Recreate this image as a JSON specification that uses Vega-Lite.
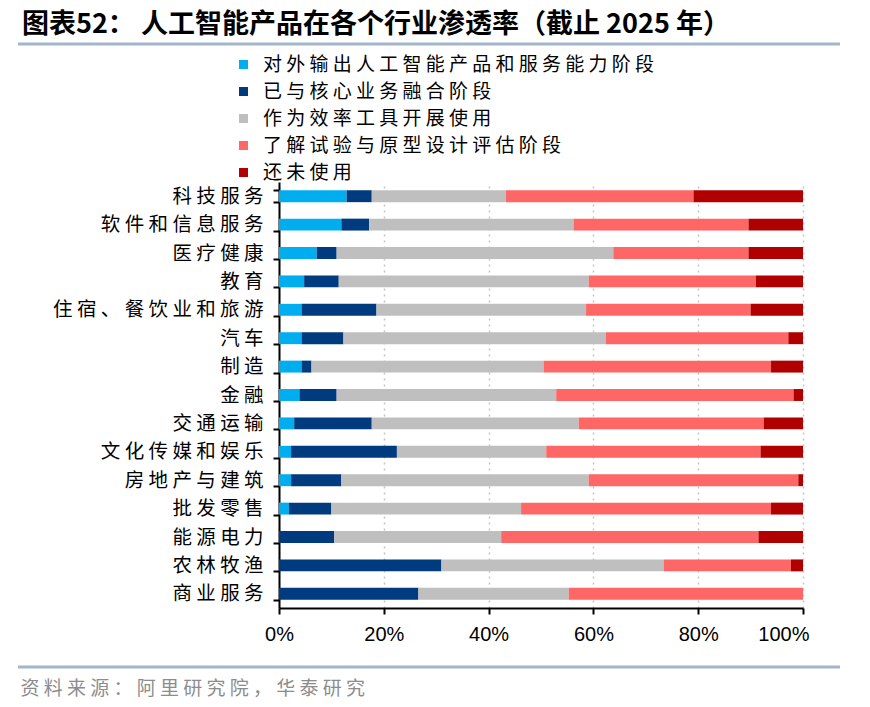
{
  "$schema": "https://vega.github.io/schema/vega-lite/v6.json",
  "width": 524,
  "height": 426,
  "autosize": {"type": "none"},
  "padding": {"left": 279, "top": 182, "right": 67, "bottom": 99},
  "background": "white",
  "title": {
    "text": "图表52：  人工智能产品在各个行业渗透率（截止 2025 年）",
    "anchor": "start",
    "frame": "group",
    "dx": -257,
    "dy": -4,
    "offset": 0,
    "font": "Noto Sans CJK SC",
    "fontSize": 27,
    "fontWeight": "bold",
    "color": "#000000"
  },
  "config": {
    "view": {"stroke": null},
    "font": "Noto Sans CJK SC"
  },
  "datasets": {
    "rates": [
      {"industry": "科技服务", "stage": "对外输出人工智能产品和服务能力阶段", "value": 12.9},
      {"industry": "科技服务", "stage": "已与核心业务融合阶段", "value": 4.8},
      {"industry": "科技服务", "stage": "作为效率工具开展使用", "value": 25.6},
      {"industry": "科技服务", "stage": "了解试验与原型设计评估阶段", "value": 35.8},
      {"industry": "科技服务", "stage": "还未使用", "value": 20.9},
      {"industry": "软件和信息服务", "stage": "对外输出人工智能产品和服务能力阶段", "value": 11.9},
      {"industry": "软件和信息服务", "stage": "已与核心业务融合阶段", "value": 5.3},
      {"industry": "软件和信息服务", "stage": "作为效率工具开展使用", "value": 39.0},
      {"industry": "软件和信息服务", "stage": "了解试验与原型设计评估阶段", "value": 33.4},
      {"industry": "软件和信息服务", "stage": "还未使用", "value": 10.4},
      {"industry": "医疗健康", "stage": "对外输出人工智能产品和服务能力阶段", "value": 7.2},
      {"industry": "医疗健康", "stage": "已与核心业务融合阶段", "value": 3.8},
      {"industry": "医疗健康", "stage": "作为效率工具开展使用", "value": 52.8},
      {"industry": "医疗健康", "stage": "了解试验与原型设计评估阶段", "value": 25.8},
      {"industry": "医疗健康", "stage": "还未使用", "value": 10.4},
      {"industry": "教育", "stage": "对外输出人工智能产品和服务能力阶段", "value": 4.8},
      {"industry": "教育", "stage": "已与核心业务融合阶段", "value": 6.6},
      {"industry": "教育", "stage": "作为效率工具开展使用", "value": 47.7},
      {"industry": "教育", "stage": "了解试验与原型设计评估阶段", "value": 31.9},
      {"industry": "教育", "stage": "还未使用", "value": 9.0},
      {"industry": "住宿、餐饮业和旅游", "stage": "对外输出人工智能产品和服务能力阶段", "value": 4.3},
      {"industry": "住宿、餐饮业和旅游", "stage": "已与核心业务融合阶段", "value": 14.3},
      {"industry": "住宿、餐饮业和旅游", "stage": "作为效率工具开展使用", "value": 40.0},
      {"industry": "住宿、餐饮业和旅游", "stage": "了解试验与原型设计评估阶段", "value": 31.4},
      {"industry": "住宿、餐饮业和旅游", "stage": "还未使用", "value": 10.0},
      {"industry": "汽车", "stage": "对外输出人工智能产品和服务能力阶段", "value": 4.3},
      {"industry": "汽车", "stage": "已与核心业务融合阶段", "value": 8.0},
      {"industry": "汽车", "stage": "作为效率工具开展使用", "value": 50.1},
      {"industry": "汽车", "stage": "了解试验与原型设计评估阶段", "value": 34.8},
      {"industry": "汽车", "stage": "还未使用", "value": 2.8},
      {"industry": "制造", "stage": "对外输出人工智能产品和服务能力阶段", "value": 4.3},
      {"industry": "制造", "stage": "已与核心业务融合阶段", "value": 1.9},
      {"industry": "制造", "stage": "作为效率工具开展使用", "value": 44.3},
      {"industry": "制造", "stage": "了解试验与原型设计评估阶段", "value": 43.4},
      {"industry": "制造", "stage": "还未使用", "value": 6.1},
      {"industry": "金融", "stage": "对外输出人工智能产品和服务能力阶段", "value": 3.9},
      {"industry": "金融", "stage": "已与核心业务融合阶段", "value": 7.1},
      {"industry": "金融", "stage": "作为效率工具开展使用", "value": 41.9},
      {"industry": "金融", "stage": "了解试验与原型设计评估阶段", "value": 45.3},
      {"industry": "金融", "stage": "还未使用", "value": 1.8},
      {"industry": "交通运输", "stage": "对外输出人工智能产品和服务能力阶段", "value": 2.9},
      {"industry": "交通运输", "stage": "已与核心业务融合阶段", "value": 14.8},
      {"industry": "交通运输", "stage": "作为效率工具开展使用", "value": 39.5},
      {"industry": "交通运输", "stage": "了解试验与原型设计评估阶段", "value": 35.3},
      {"industry": "交通运输", "stage": "还未使用", "value": 7.5},
      {"industry": "文化传媒和娱乐", "stage": "对外输出人工智能产品和服务能力阶段", "value": 2.3},
      {"industry": "文化传媒和娱乐", "stage": "已与核心业务融合阶段", "value": 20.2},
      {"industry": "文化传媒和娱乐", "stage": "作为效率工具开展使用", "value": 28.5},
      {"industry": "文化传媒和娱乐", "stage": "了解试验与原型设计评估阶段", "value": 40.9},
      {"industry": "文化传媒和娱乐", "stage": "还未使用", "value": 8.1},
      {"industry": "房地产与建筑", "stage": "对外输出人工智能产品和服务能力阶段", "value": 2.3},
      {"industry": "房地产与建筑", "stage": "已与核心业务融合阶段", "value": 9.6},
      {"industry": "房地产与建筑", "stage": "作为效率工具开展使用", "value": 47.2},
      {"industry": "房地产与建筑", "stage": "了解试验与原型设计评估阶段", "value": 40.0},
      {"industry": "房地产与建筑", "stage": "还未使用", "value": 0.9},
      {"industry": "批发零售", "stage": "对外输出人工智能产品和服务能力阶段", "value": 1.9},
      {"industry": "批发零售", "stage": "已与核心业务融合阶段", "value": 8.1},
      {"industry": "批发零售", "stage": "作为效率工具开展使用", "value": 36.2},
      {"industry": "批发零售", "stage": "了解试验与原型设计评估阶段", "value": 47.7},
      {"industry": "批发零售", "stage": "还未使用", "value": 6.1},
      {"industry": "能源电力", "stage": "对外输出人工智能产品和服务能力阶段", "value": 0},
      {"industry": "能源电力", "stage": "已与核心业务融合阶段", "value": 10.5},
      {"industry": "能源电力", "stage": "作为效率工具开展使用", "value": 31.9},
      {"industry": "能源电力", "stage": "了解试验与原型设计评估阶段", "value": 49.1},
      {"industry": "能源电力", "stage": "还未使用", "value": 8.5},
      {"industry": "农林牧渔", "stage": "对外输出人工智能产品和服务能力阶段", "value": 0},
      {"industry": "农林牧渔", "stage": "已与核心业务融合阶段", "value": 31.0},
      {"industry": "农林牧渔", "stage": "作为效率工具开展使用", "value": 42.4},
      {"industry": "农林牧渔", "stage": "了解试验与原型设计评估阶段", "value": 24.3},
      {"industry": "农林牧渔", "stage": "还未使用", "value": 2.3},
      {"industry": "商业服务", "stage": "对外输出人工智能产品和服务能力阶段", "value": 0},
      {"industry": "商业服务", "stage": "已与核心业务融合阶段", "value": 26.6},
      {"industry": "商业服务", "stage": "作为效率工具开展使用", "value": 28.7},
      {"industry": "商业服务", "stage": "了解试验与原型设计评估阶段", "value": 44.7},
      {"industry": "商业服务", "stage": "还未使用", "value": 0}
    ]
  },
  "resolve": {"scale": {"y": "independent"}},
  "layer": [
    {
      "data": {"name": "rates"},
      "transform": [
        {"calculate": "indexof(['对外输出人工智能产品和服务能力阶段', '已与核心业务融合阶段', '作为效率工具开展使用', '了解试验与原型设计评估阶段', '还未使用'], datum.stage)", "as": "stageOrder"}
      ],
      "mark": {"type": "bar"},
      "encoding": {
        "y": {
          "field": "industry",
          "type": "nominal",
          "sort": null,
          "scale": {"paddingInner": 0.58, "paddingOuter": 0.29},
          "axis": {
            "title": null,
            "tickBand": "extent",
            "domainColor": "#000000",
            "domainWidth": 2,
            "tickColor": "#000000",
            "tickWidth": 2,
            "tickSize": 6,
            "labelPadding": 10,
            "labelFont": "Noto Sans CJK SC",
            "labelFontSize": 19.5,
            "labelColor": "#000000",
            "labelLimit": 400,
            "labelExpr": "join(split(datum.label, ''), ' ')"
          }
        },
        "x": {
          "field": "value",
          "type": "quantitative",
          "stack": "normalize",
          "scale": {"domain": [0, 1]},
          "axis": {
            "values": [0, 0.2, 0.4, 0.6, 0.8, 1],
            "format": ".0%",
            "grid": true,
            "gridDash": [2, 4],
            "gridColor": "#c4c4c4",
            "gridWidth": 1.5,
            "domainColor": "#000000",
            "domainWidth": 2,
            "tickColor": "#000000",
            "tickWidth": 2,
            "tickSize": 6,
            "labelFont": "Liberation Sans",
            "labelFontSize": 20,
            "labelColor": "#000000",
            "labelPadding": 10,
            "labelAlign": {"expr": "datum.value == 1 ? 'right' : 'center'"},
            "labelOffset": {"expr": "datum.value == 1 ? 6 : 0"},
            "title": "资 料 来 源 ： 阿 里 研 究 院 ， 华 泰 研 究",
            "titleFont": "Noto Sans CJK SC",
            "titleFontSize": 19,
            "titleFontWeight": "normal",
            "titleColor": "#8c8c8c",
            "titleAlign": "left",
            "titleBaseline": "middle",
            "titleX": -259,
            "titleY": 80
          }
        },
        "order": {"field": "stageOrder", "type": "quantitative", "sort": "ascending"},
        "color": {
          "field": "stage",
          "type": "nominal",
          "sort": ["对外输出人工智能产品和服务能力阶段", "已与核心业务融合阶段", "作为效率工具开展使用", "了解试验与原型设计评估阶段", "还未使用"],
          "scale": {
            "domain": ["对外输出人工智能产品和服务能力阶段", "已与核心业务融合阶段", "作为效率工具开展使用", "了解试验与原型设计评估阶段", "还未使用"],
            "range": ["#00AEEF", "#003A7F", "#BFBFBF", "#FF6666", "#B00000"]
          },
          "legend": {
            "title": null,
            "orient": "none",
            "legendX": -45,
            "legendY": -127,
            "symbolType": "square",
            "symbolSize": 81,
            "symbolStrokeWidth": 0,
            "labelFont": "Noto Sans CJK SC",
            "labelFontSize": 19,
            "labelColor": "#000000",
            "labelLimit": 600,
            "labelOffset": 10,
            "rowPadding": 7,
            "labelExpr": "join(split(datum.label, ''), ' ')"
          }
        }
      }
    },
    {
      "data": {"values": [{}]},
      "mark": {"type": "rule", "color": "#a3b6c9", "strokeWidth": 3},
      "encoding": {
        "x": {"datum": -0.498, "type": "quantitative", "scale": {"domain": [0, 1]}},
        "x2": {"datum": 1.0706},
        "y": {"datum": 564, "type": "quantitative", "scale": {"domain": [0, 426]}, "axis": null}
      }
    },
    {
      "data": {"values": [{}]},
      "mark": {"type": "rule", "color": "#a3b6c9", "strokeWidth": 3},
      "encoding": {
        "x": {"datum": -0.498, "type": "quantitative", "scale": {"domain": [0, 1]}},
        "x2": {"datum": 1.0706},
        "y": {"datum": -59, "type": "quantitative", "scale": {"domain": [0, 426]}, "axis": null}
      }
    }
  ]
}
